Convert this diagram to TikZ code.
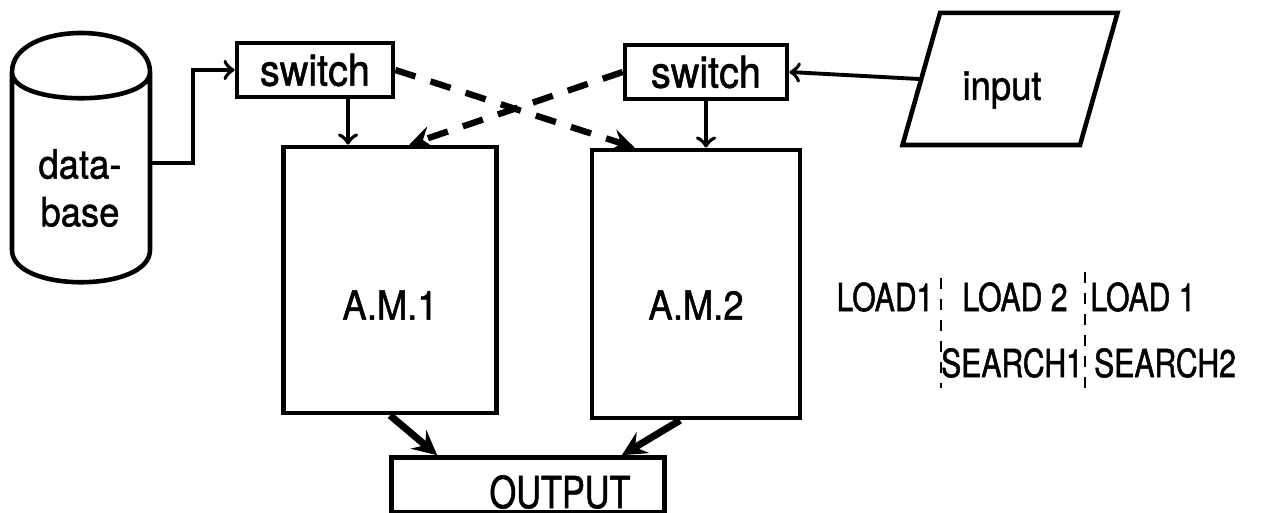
\documentclass[tikz,border=0pt]{standalone}
\usepackage{fontspec}
\setmainfont{TeX Gyre Heros}[FakeStretch=0.9,FakeBold=1.2]
\newfontfamily\narrowfont{TeX Gyre Heros}[FakeStretch=0.78,FakeBold=1.2]
\usetikzlibrary{arrows}
\usetikzlibrary{shapes.geometric}

\tikzset{
  box/.style={draw,line width=1.3pt,inner sep=0pt},
  arr/.style={->,line width=1.1pt},
  fatarr/.style={-stealth,line width=2pt},
  dasharr/.style={-stealth,line width=1.8pt,dash pattern=on 6pt off 4.5pt},
  sep/.style={line width=0.8pt,dash pattern=on 3pt off 3pt},
  txt/.style={font=\fontsize{11.5}{13.6}\selectfont},
  tab/.style={font=\narrowfont\fontsize{11}{12}\selectfont},
}

\begin{document}
\begin{tikzpicture}[x=0.01cm,y=-0.01cm]
\useasboundingbox (0,0) rectangle (1261,513);
% data base
\draw[line width=1.3pt] (12,72) .. controls (12,20) and (150,20) .. (150,72)
  .. controls (150,107) and (12,107) .. (12,72) -- (12,250)
  .. controls (12,293) and (150,293) .. (150,250) -- (150,72);
\node[txt,align=center] (db) at (80,188) {data-\\base};
\coordinate (dbout) at (150,163);
% switches and memories
\node[box,font=\fontsize{12.5}{14}\selectfont,minimum width=1.56cm,minimum height=0.54cm] (sw1) at (315,70) {switch};
\node[box,font=\fontsize{12.5}{14}\selectfont,minimum width=1.62cm,minimum height=0.54cm] (sw2) at (706,72) {switch};
\node[box,minimum width=2.13cm,minimum height=2.66cm] (am1) at (390,280) {};
\node[box,minimum width=2.08cm,minimum height=2.68cm] (am2) at (696,284) {};
\node[txt] (am1txt) at (390,305) {A.M.1};
\node[txt] (am2txt) at (696,305) {A.M.2};
\node[box,minimum width=2.73cm,minimum height=0.55cm] (out) at (528,485) {};
\node[font=\narrowfont\fontsize{12.5}{14}\selectfont] (outtxt) at (560,492) {OUTPUT};
% input
\node[draw,line width=1.3pt,trapezium,trapezium left angle=75,trapezium right angle=105,
  trapezium stretches=true,minimum width=2.15cm,minimum height=1.32cm] (inp) at (1010,79) {};
\node[txt] (inptxt) at (1002,90) {input};
% connections
\draw[arr] (dbout) -- ++(43,0) |- (sw1.west);
\draw[arr] ([xshift=0.33cm]sw1.south) -- ([xshift=0.33cm]sw1.south |- am1.north);
\draw[arr] (sw2.south) -- (sw2.south |- am2.north);
\draw[arr] (inp.west) -- (sw2.east);
\draw[dasharr] (sw1.east) -- ([xshift=0.45cm]am2.north west);
\draw[dasharr] (sw2.west) -- ([xshift=1.28cm]am1.north west);
\draw[fatarr] (am1.south) -- ([xshift=0.48cm]out.north west);
\draw[fatarr] ([xshift=-0.16cm]am2.south) -- ([xshift=-0.45cm]out.north east);
% phases
\node[tab] (ld1) at (885,297) {LOAD1};
\node[tab] (ld2) at (1015,297) {LOAD 2};
\node[tab] (ld3) at (1143,297) {LOAD 1};
\node[tab] (sr1) at (1012,363) {SEARCH1};
\node[tab] (sr2) at (1165,363) {SEARCH2};
\draw[sep] (941,278) -- (941,388);
\draw[sep] (1085,272) -- (1085,392);
\end{tikzpicture}
\end{document}
